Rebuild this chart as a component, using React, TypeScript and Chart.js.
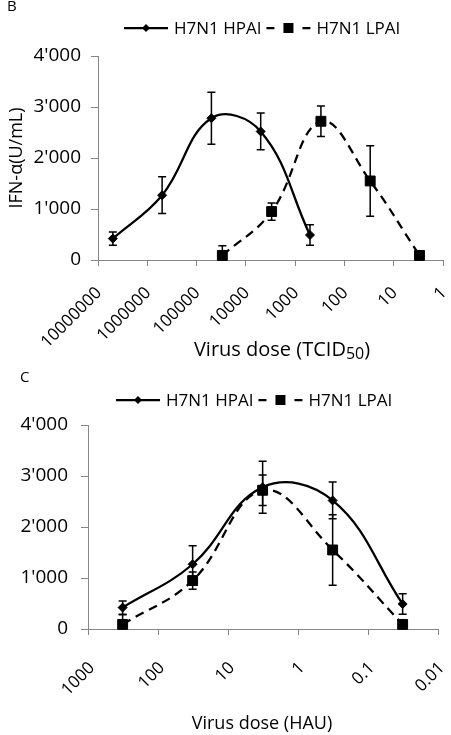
import React, { useEffect, useRef } from "react";
import { Chart, registerables } from "chart.js";

Chart.register(...registerables);

const FONT_FAMILY = "'Open Sans', 'DejaVu Sans', sans-serif";

// ---------------- data ----------------
const SERIES = ["H7N1 HPAI", "H7N1 LPAI"];
const IFN_TICKS = [0, 1000, 2000, 3000, 4000];
const TCID_TICKS = [10000000, 1000000, 100000, 10000, 1000, 100, 10, 1];
const HAU_TICKS = [1000, 100, 10, 1, 0.1, 0.01];

const HPAI_TCID50 = [5000000, 500000, 50000, 5000, 500];
const LPAI_TCID50 = [30000, 3000, 300, 30, 3];
const HPAI_HAU = [320, 32, 3.2, 0.32, 0.032];
const LPAI_HAU = [320, 32, 3.2, 0.32, 0.032];

const HPAI_IFN = [420, 1270, 2780, 2520, 490];
const HPAI_ERR = [130, 360, 510, 360, 200];
const LPAI_IFN = [90, 950, 2720, 1550, 90];
const LPAI_ERR = [190, 170, 300, 690, 40];

const ERRORS = [HPAI_ERR, LPAI_ERR];

const fmtIFN = (v: number) =>
  v >= 1000 ? `${Math.floor(v / 1000)}'${String(v % 1000).padStart(3, "0")}` : String(v);

const W = 451;

type PanelDef = {
  letter: string;
  letterX: number;
  letterY: number;
  top: number;
  height: number;
  area: { left: number; right: number; top: number; bottom: number };
  xTicks: number[];
  hpaiX: number[];
  lpaiX: number[];
  xTitle: string;
  xTitleSub: string;
  xTitleEnd: string;
  xTitleSize: number;
  xTitleX: number;
  xTitleY: number;
  yTitle: string | null;
  yTitleX: number;
  legendX: number;
  legendY: number;
  yLabelPad: number;
  xLabelPad: number;
  xLabelOffset: number;
};

const PANELS: PanelDef[] = [
  {
    letter: "B", letterX: 7, letterY: 7, top: 0, height: 368,
    area: { left: 98, right: 446, top: 56, bottom: 260 },
    xTicks: TCID_TICKS, hpaiX: HPAI_TCID50, lpaiX: LPAI_TCID50,
    xTitle: "Virus dose (TCID", xTitleSub: "50", xTitleEnd: ")", xTitleSize: 20, xTitleX: 282, xTitleY: 350,
    yTitle: "IFN-α(U/mL)", yTitleX: 17, legendX: 124, legendY: 28, yLabelPad: 10,
    xLabelPad: 17, xLabelOffset: 1,
  },
  {
    letter: "C", letterX: 20, letterY: 10, top: 368, height: 367,
    area: { left: 88, right: 438, top: 57, bottom: 261 },
    xTicks: HAU_TICKS, hpaiX: HPAI_HAU, lpaiX: LPAI_HAU,
    xTitle: "Virus dose (HAU)", xTitleSub: "", xTitleEnd: "", xTitleSize: 18, xTitleX: 262, xTitleY: 356,
    yTitle: null, yTitleX: 17, legendX: 116, legendY: 32, yLabelPad: 13,
    xLabelPad: 23, xLabelOffset: 4,
  },
];

function drawDiamond(ctx: CanvasRenderingContext2D, x: number, y: number, r: number) {
  ctx.beginPath();
  ctx.moveTo(x, y - r);
  ctx.lineTo(x + r, y);
  ctx.lineTo(x, y + r);
  ctx.lineTo(x - r, y);
  ctx.closePath();
  ctx.fill();
}

function buildConfig(p: PanelDef): any {
  const xTickFont = { family: FONT_FAMILY, size: 17 };
  const yTickFont = { family: FONT_FAMILY, size: 19 };
  const axisColor = "#868686";

  const errorBarPlugin = {
    id: "errorBars",
    beforeDatasetsDraw(chart: any) {
      const ctx: CanvasRenderingContext2D = chart.ctx;
      const ys = chart.scales.y;
      const a = chart.chartArea;
      ctx.save();
      ctx.beginPath();
      ctx.rect(a.left, a.top, a.right - a.left, a.bottom - a.top);
      ctx.clip();
      ctx.strokeStyle = "#000";
      ctx.lineWidth = 1.5;
      chart.data.datasets.forEach((ds: any, i: number) => {
        const meta = chart.getDatasetMeta(i);
        const errs = ERRORS[i];
        meta.data.forEach((pt: any, j: number) => {
          const v = ds.data[j].y;
          const e = errs[j];
          const yt = ys.getPixelForValue(v + e);
          const yb = ys.getPixelForValue(v - e);
          const x = pt.x;
          const cap = 4;
          ctx.beginPath();
          ctx.moveTo(x, yt); ctx.lineTo(x, yb);
          ctx.moveTo(x - cap, yt); ctx.lineTo(x + cap, yt);
          ctx.moveTo(x - cap, yb); ctx.lineTo(x + cap, yb);
          ctx.stroke();
        });
      });
      ctx.restore();
    },
  };

  const decorPlugin = {
    id: "decor",
    afterDraw(chart: any) {
      const ctx: CanvasRenderingContext2D = chart.ctx;
      const a = chart.chartArea;
      ctx.save();
      ctx.fillStyle = "#000";
      ctx.strokeStyle = "#000";
      ctx.textBaseline = "middle";
      ctx.textAlign = "left";

      // panel letter
      ctx.font = `15px ${FONT_FAMILY}`;
      ctx.fillText(p.letter, p.letterX, p.letterY);

      // legend
      ctx.font = `17px ${FONT_FAMILY}`;
      const SAMPLE = 44, GAP_T = 6, GAP_I = 5;
      const w0 = ctx.measureText(SERIES[0]).width;
      let x = p.legendX;
      const ly = p.legendY;
      ctx.lineWidth = 2.25;
      ctx.beginPath(); ctx.moveTo(x, ly); ctx.lineTo(x + SAMPLE, ly); ctx.stroke();
      drawDiamond(ctx, x + SAMPLE / 2, ly, 4);
      ctx.fillText(SERIES[0], x + SAMPLE + GAP_T, ly + 1);
      x += SAMPLE + GAP_T + w0 + GAP_I;
      ctx.beginPath();
      ctx.moveTo(x, ly); ctx.lineTo(x + 8, ly);
      ctx.moveTo(x + SAMPLE - 8, ly); ctx.lineTo(x + SAMPLE, ly);
      ctx.stroke();
      ctx.fillRect(x + SAMPLE / 2 - 5, ly - 5, 10, 10);
      ctx.fillText(SERIES[1], x + SAMPLE + GAP_T, ly + 1);

      // x axis title (with optional subscript)
      const mainFont = `${p.xTitleSize}px ${FONT_FAMILY}`;
      const subFont = `${Math.round(p.xTitleSize * 0.8)}px ${FONT_FAMILY}`;
      ctx.font = mainFont;
      const wMain = ctx.measureText(p.xTitle).width;
      const wEnd = p.xTitleEnd ? ctx.measureText(p.xTitleEnd).width : 0;
      ctx.font = subFont;
      const wSub = p.xTitleSub ? ctx.measureText(p.xTitleSub).width : 0;
      let tx = p.xTitleX - (wMain + wSub + wEnd) / 2;
      ctx.font = mainFont;
      ctx.fillText(p.xTitle, tx, p.xTitleY);
      tx += wMain;
      if (p.xTitleSub) {
        ctx.font = subFont;
        ctx.fillText(p.xTitleSub, tx, p.xTitleY + 4);
        tx += wSub;
        ctx.font = mainFont;
        ctx.fillText(p.xTitleEnd, tx, p.xTitleY);
      }

      // y axis title
      if (p.yTitle) {
        ctx.save();
        ctx.font = `18px ${FONT_FAMILY}`;
        ctx.textAlign = "center";
        ctx.translate(p.yTitleX, (a.top + a.bottom) / 2);
        ctx.rotate(-Math.PI / 2);
        ctx.fillText(p.yTitle, 0, 0);
        ctx.restore();
      }
      ctx.restore();
    },
  };

  const xMin = Math.min(...p.xTicks);
  const xMax = Math.max(...p.xTicks);

  return {
    type: "line",
    data: {
      datasets: [
        {
          label: SERIES[0],
          data: p.hpaiX.map((x, i) => ({ x, y: HPAI_IFN[i] })),
          borderColor: "#000", backgroundColor: "#000",
          pointBackgroundColor: "#000", pointBorderColor: "#000",
          borderWidth: 2.25, pointStyle: "rectRot", pointRadius: 4.5, pointBorderWidth: 1,
          tension: 0.4, fill: false, clip: false,
        },
        {
          label: SERIES[1],
          data: p.lpaiX.map((x, i) => ({ x, y: LPAI_IFN[i] })),
          borderColor: "#000", backgroundColor: "#000",
          pointBackgroundColor: "#000", pointBorderColor: "#000",
          borderWidth: 2.25, borderDash: [9, 6], pointStyle: "rect", pointRadius: 7, pointBorderWidth: 1,
          tension: 0.4, fill: false, clip: false,
        },
      ],
    },
    options: {
      responsive: false, maintainAspectRatio: false, animation: false,
      layout: { padding: { left: 0, right: W - p.area.right, top: p.area.top, bottom: 0 } },
      plugins: { legend: { display: false }, tooltip: { enabled: false }, title: { display: false } },
      scales: {
        x: {
          type: "logarithmic", reverse: true, min: xMin, max: xMax,
          afterBuildTicks: (s: any) => { s.ticks = p.xTicks.map((v) => ({ value: v })); },
          afterFit: (s: any) => { s.height = p.height - p.area.bottom; s.paddingLeft = 0; s.paddingRight = 0; },
          ticks: {
            autoSkip: false, minRotation: 45, maxRotation: 45, padding: p.xLabelPad, labelOffset: p.xLabelOffset,
            color: "#000", font: xTickFont,
            callback: (v: any) => String(v),
          },
          grid: { display: true, drawOnChartArea: false, drawTicks: true, tickLength: 6, color: axisColor, lineWidth: 1 },
          border: { display: true, color: axisColor, width: 1 },
        },
        y: {
          type: "linear", min: 0, max: 4000,
          afterBuildTicks: (s: any) => { s.ticks = IFN_TICKS.map((v) => ({ value: v })); },
          afterFit: (s: any) => { s.width = p.area.left; },
          ticks: { padding: p.yLabelPad, color: "#000", font: yTickFont, callback: (v: any) => fmtIFN(Number(v)) },
          grid: { display: true, drawOnChartArea: false, drawTicks: true, tickLength: 7, color: axisColor, lineWidth: 1 },
          border: { display: true, color: axisColor, width: 1 },
        },
      },
    },
    plugins: [errorBarPlugin, decorPlugin],
  };
}

function Panel({ p }: { p: PanelDef }) {
  const ref = useRef<HTMLCanvasElement>(null);
  useEffect(() => {
    if (!ref.current) return;
    const chart = new Chart(ref.current, buildConfig(p));
    return () => chart.destroy();
  }, [p]);
  return (
    <canvas ref={ref} width={W} height={p.height}
      style={{ position: "absolute", left: 0, top: p.top, width: W, height: p.height }} />
  );
}

export default function App() {
  return (
    <div style={{ position: "fixed", left: 0, top: 0, width: W, height: 735, background: "#fff", overflow: "hidden" }}>
      {PANELS.map((p) => (<Panel key={p.letter} p={p} />))}
    </div>
  );
}
